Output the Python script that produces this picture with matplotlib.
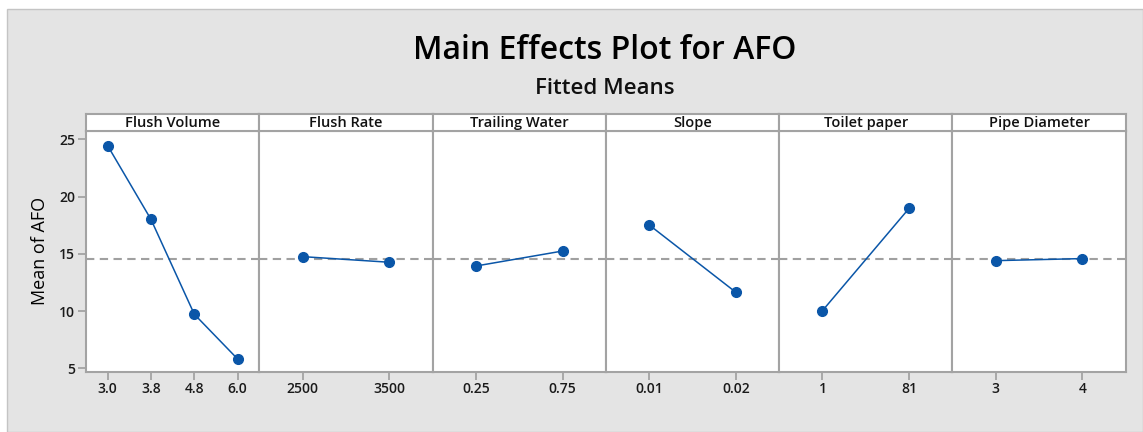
import matplotlib
matplotlib.use("Agg")
import matplotlib.pyplot as plt
from matplotlib.patches import Rectangle

plt.rcParams['font.family'] = ['Open Sans', 'DejaVu Sans']

factors = ["Flush Volume", "Flush Rate", "Trailing Water", "Slope", "Toilet paper", "Pipe Diameter"]
levels = [
    ["3.0", "3.8", "4.8", "6.0"],
    ["2500", "3500"],
    ["0.25", "0.75"],
    ["0.01", "0.02"],
    ["1", "81"],
    ["3", "4"],
]
means = [
    [24.44, 18.0, 9.72, 5.81],
    [14.75, 14.26],
    [13.93, 15.24],
    [17.52, 11.64],
    [10.03, 18.97],
    [14.40, 14.58],
]
grand_mean = 14.57
yticks = [5, 10, 15, 20, 25]

W, H = 1143, 432
fig = plt.figure(figsize=(W / 100, H / 100), dpi=100, facecolor='white')

# grey background panel
bg = Rectangle((7 / W, 0), 1 - 7 / W, (H - 9) / H, transform=fig.transFigure,
               facecolor='#e4e4e4', edgecolor='#c4c4c4', linewidth=1.0, zorder=-10)
fig.patches.append(bg)

fig.text(605 / W, 1 - 50.5 / H, "Main Effects Plot for AFO", ha='center', va='center',
         fontsize=23, fontweight='semibold', color='black')
fig.text(605 / W, 1 - 88 / H, "Fitted Means", ha='center', va='center',
         fontsize=16, fontweight='semibold', color='#111111')

left_px, right_px = 86, 1125.7
top_px, bot_px, strip_top_px = 130.7, 371.7, 114
pw = (right_px - left_px) / len(factors)
spine_c = '#a3a3a3'
line_c = '#0a56a8'

for i, (name, lv, mv) in enumerate(zip(factors, levels, means)):
    x0 = (left_px + i * pw) / W
    ax = fig.add_axes([x0, 1 - bot_px / H, pw / W, (bot_px - top_px) / H])
    ax.set_facecolor('white')
    xs = list(range(len(lv)))
    ax.axhline(grand_mean, color='#a0a0a0', lw=1.5, dashes=(4, 2.6), zorder=1)
    ax.plot(xs, mv, color=line_c, lw=1.1, marker='o', markersize=7,
            markerfacecolor=line_c, markeredgecolor=line_c, zorder=3)
    ax.set_xlim(-0.5, len(lv) - 0.5)
    ax.set_ylim(4.70, 25.75)
    ax.set_xticks(xs)
    ax.set_xticklabels(lv)
    ax.set_yticks(yticks)
    for s in ax.spines.values():
        s.set_color(spine_c)
        s.set_linewidth(1.5)
    ax.tick_params(axis='x', direction='out', length=5.5, width=1.3, color=spine_c,
                   labelsize=10, labelcolor='#1a1a1a', pad=2)
    if i == 0:
        ax.tick_params(axis='y', direction='out', length=6, width=1.3, color=spine_c,
                       labelsize=10, labelcolor='#1a1a1a', pad=2)
        ax.set_ylabel("Mean of AFO", fontsize=13, color='black', labelpad=7)
    else:
        ax.tick_params(axis='y', left=False, labelleft=False)
    for lab in ax.get_xticklabels() + ax.get_yticklabels():
        lab.set_fontweight('semibold')

    sax = fig.add_axes([x0, 1 - top_px / H, pw / W, (top_px - strip_top_px) / H])
    sax.set_facecolor('white')
    sax.set_xticks([])
    sax.set_yticks([])
    for s in sax.spines.values():
        s.set_color(spine_c)
        s.set_linewidth(1.5)
    sax.text(0.5, 0.45, name, ha='center', va='center', fontsize=10.5,
             fontweight='semibold', color='#111111', transform=sax.transAxes)

fig.savefig("out.png", dpi=100, facecolor=fig.get_facecolor())
